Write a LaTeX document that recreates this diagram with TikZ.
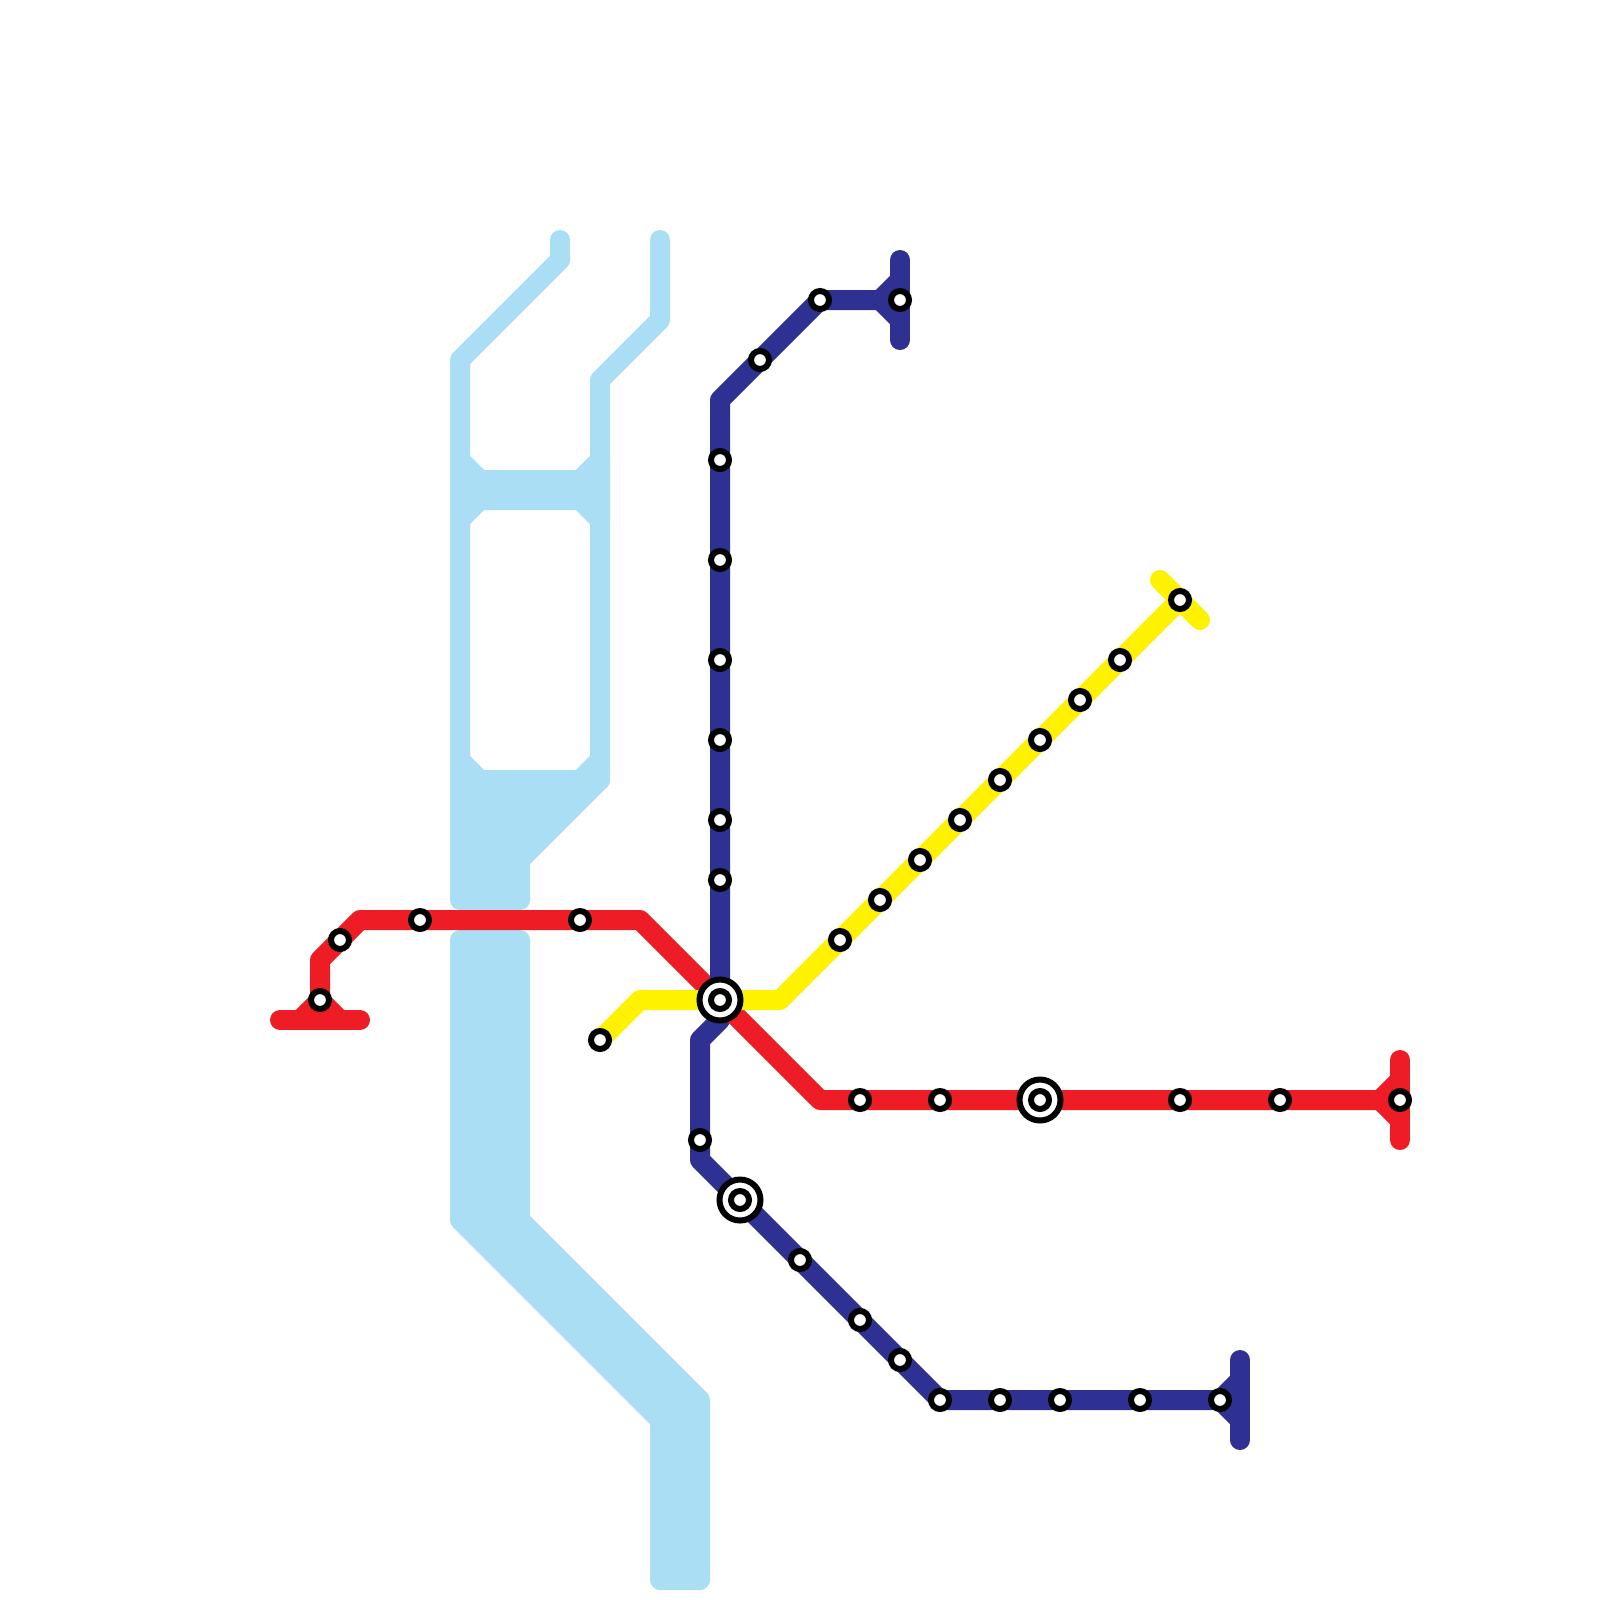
\documentclass[tikz,border=0pt]{standalone}
\usepackage{tikz}
\usetikzlibrary{backgrounds}
\definecolor{riverblue}{HTML}{A9DEF4}
\definecolor{linered}{HTML}{EE1C25}
\definecolor{lineblue}{HTML}{2E3192}
\definecolor{lineyellow}{HTML}{FFF200}
\tikzset{
    station/.style={circle,draw=black,fill=white,line width=0.075cm,minimum size=0.225cm,inner sep=0pt},
    hub/.style={station,minimum size=0.5125cm},
    route/.style={line width=0.25cm,line cap=round,line join=round},
    redline/.style={route,draw=linered},
    blueline/.style={route,draw=lineblue},
    yellowline/.style={route,draw=lineyellow},
    river/.style={route,draw=riverblue},
    riverblock/.style={river,fill=riverblue},
}
\begin{document}
\begin{tikzpicture}[x=0.25cm,y=-0.25cm]
        \useasboundingbox (0,0) rectangle (80,80);

        \foreach \n/\x/\y in {hubA/36/50,hubB/37/60,hubC/52/55}
            \node[hub] (\n) at (\x,\y) {};
        \foreach \n/\x/\y in {hubAin/36/50,hubBin/37/60,hubCin/52/55,
            b1/45/15,b2/41/15,b3/38/18,b4/36/23,b5/36/28,b6/36/33,b7/36/37,b8/36/41,b9/36/44,
            b10/35/57,b11/40/63,b12/43/66,b13/45/68,b14/47/70,b15/50/70,b16/53/70,b17/57/70,b18/61/70,
            r1/16/50,r2/17/47,r3/21/46,r4/29/46,r5/43/55,r6/47/55,r7/59/55,r8/64/55,r9/70/55,
            y1/30/52,y2/42/47,y3/44/45,y4/46/43,y5/48/41,y6/50/39,y7/52/37,y8/54/35,y9/56/33,y10/59/30}
            \node[station] (\n) at (\x,\y) {};

        % bends and line ends
        \coordinate (bTop) at (45,13);
        \coordinate (bTopEnd) at (45,17);
        \coordinate (bTopUp) at (45,14);
        \coordinate (bTopDown) at (45,16);
        \coordinate (bTopFork) at (44,15);
        \coordinate (bBendN) at (36,20);
        \coordinate (bBendA) at (36,51);
        \coordinate (bBendB) at (35,52);
        \coordinate (bBendC) at (35,58);
        \coordinate (bFar) at (62,68);
        \coordinate (bFarEnd) at (62,72);
        \coordinate (bFarUp) at (62,69);
        \coordinate (bFarDown) at (62,71);
        \coordinate (rWest) at (14,51);
        \coordinate (rWestEnd) at (18,51);
        \coordinate (rWestL) at (15,51);
        \coordinate (rWestR) at (17,51);
        \coordinate (rBendA) at (16,48);
        \coordinate (rBendB) at (18,46);
        \coordinate (rBendC) at (32,46);
        \coordinate (rBendD) at (41,55);
        \coordinate (rEast) at (70,53);
        \coordinate (rEastEnd) at (70,57);
        \coordinate (rEastUp) at (70,54);
        \coordinate (rEastDown) at (70,56);
        \coordinate (rEastFork) at (69,55);
        \coordinate (yBendA) at (32,50);
        \coordinate (yBendB) at (39,50);
        \coordinate (yEnd) at (58,29);
        \coordinate (yEndB) at (60,31);

        \begin{scope}[on background layer]
            % river
            \draw[river] (28,12) -- (28,13) -- (23,18) -- (23,39);
            \draw[river] (33,12) -- (33,16) -- (30,19) -- (30,39);
            \draw[riverblock] (23,23) -- (24,24) -- (29,24) -- (30,23) -- (30,26) -- (29,25) -- (24,25) -- (23,26) -- cycle;
            \draw[river] (23,38) -- (24,39);
            \draw[river] (30,38) -- (29,39);
            \draw[riverblock] (23,39) -- (30,39) -- (26,43) -- (26,45) -- (23,45) -- cycle;
            \draw[riverblock] (23,47) -- (26,47) -- (26,61) -- (35,70) -- (35,79) -- (33,79) -- (33,71) -- (23,61) -- cycle;

            \draw[redline] (rWest) -- (rWestEnd);
            \draw[redline] (rWestL) -- (r1.center) -- (rWestR);
            \draw[redline] (r1.center) -- (rBendA) -- (r2.center) -- (rBendB) -- (r3.center) -- (r4.center) -- (rBendC) -- (hubA.center);

            \draw[blueline] (bTop) -- (bTopEnd);
            \draw[blueline] (bTopUp) -- (bTopFork) -- (bTopDown);
            \draw[blueline] (b1.center) -- (b2.center) -- (b3.center) -- (bBendN) -- (b4.center) -- (b5.center) -- (b6.center)
                -- (b7.center) -- (b8.center) -- (b9.center) -- (hubA.center) -- (bBendA) -- (bBendB) -- (b10.center) -- (bBendC)
                -- (hubB.center) -- (b11.center) -- (b12.center) -- (b13.center) -- (b14.center) -- (b15.center) -- (b16.center)
                -- (b17.center) -- (b18.center);
            \draw[blueline] (bFar) -- (bFarEnd);
            \draw[blueline] (bFarUp) -- (b18.center) -- (bFarDown);

            \draw[redline] (hubA.center) -- (rBendD) -- (r5.center) -- (r6.center) -- (hubC.center) -- (r7.center) -- (r8.center) -- (r9.center);
            \draw[redline] (rEast) -- (rEastEnd);
            \draw[redline] (rEastUp) -- (rEastFork) -- (rEastDown);

            \draw[yellowline] (y1.center) -- (yBendA) -- (hubA.center) -- (yBendB) -- (y2.center) -- (y3.center) -- (y4.center)
                -- (y5.center) -- (y6.center) -- (y7.center) -- (y8.center) -- (y9.center) -- (y10.center);
            \draw[yellowline] (yEnd) -- (yEndB);
        \end{scope}
\end{tikzpicture}
\end{document}
